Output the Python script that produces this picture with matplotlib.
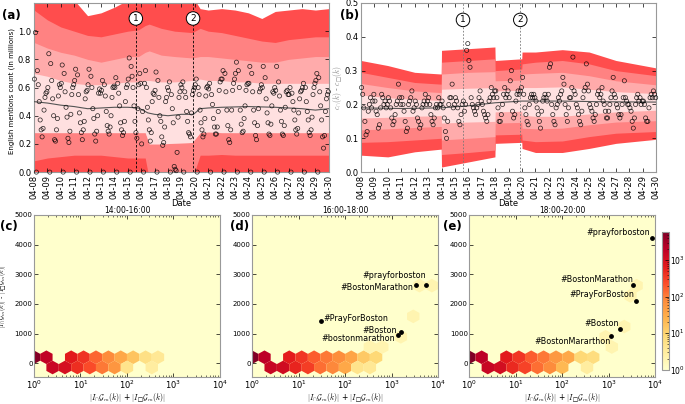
import matplotlib
matplotlib.use("Agg")
import matplotlib.pyplot as plt
import numpy as np
from matplotlib.colors import LogNorm

plt.rcParams["mathtext.fontset"] = "cm"
plt.rcParams["xtick.direction"] = "in"
plt.rcParams["ytick.direction"] = "in"
plt.rcParams["xtick.top"] = True
plt.rcParams["ytick.right"] = True

# ---- top panels: shared date axis ----
date_labels = ["04-08", "04-09", "04-10", "04-11", "04-12", "04-13", "04-14", "04-15",
               "04-16", "04-17", "04-18", "04-19", "04-20", "04-21", "04-22", "04-23",
               "04-24", "04-25", "04-26", "04-27", "04-28", "04-29", "04-30"]
event_days = [7.6, 11.87]

# panel (a): percentile bands (days since 04-08)
band_days_a = [0, 1, 2, 3, 4, 5, 6, 7, 7.8, 8.3, 8.6, 9.5, 10.5, 11.8, 12.4, 13, 14, 15, 16, 17, 18, 19, 20, 21, 22]
outer_hi_a = [1.25, 1.25, 1.25, 1.22, 1.11, 1.13, 1.17, 1.22, 1.25, 1.25, 1.25, 1.25, 1.25, 1.25,
              1.16, 1.15, 1.16, 1.15, 1.13, 1.09, 1.14, 1.15, 1.16, 1.15, 1.16]
mid_hi_a = [1.15, 1.08, 1.03, 1.0, 0.97, 0.96, 0.98, 1.0, 1.01, 1.04, 1.05, 1.02, 1.0, 0.99,
            1.02, 1.0, 0.99, 0.97, 0.95, 0.93, 0.92, 0.94, 0.95, 0.96, 0.96]
inner_hi_a = [0.92, 0.88, 0.85, 0.83, 0.8, 0.78, 0.8, 0.82, 0.82, 0.85, 0.86, 0.83, 0.82, 0.81,
              0.82, 0.82, 0.81, 0.8, 0.79, 0.78, 0.78, 0.8, 0.81, 0.82, 0.82]
core_hi_a = [0.7, 0.68, 0.65, 0.63, 0.62, 0.62, 0.63, 0.64, 0.64, 0.65, 0.65, 0.64, 0.64, 0.65,
             0.66, 0.65, 0.65, 0.64, 0.64, 0.63, 0.63, 0.63, 0.63, 0.63, 0.63]
core_lo_a = [0.28, 0.28, 0.28, 0.28, 0.28, 0.28, 0.28, 0.28, 0.28, 0.28, 0.2, 0.2, 0.205, 0.21,
             0.28, 0.285, 0.28, 0.28, 0.28, 0.28, 0.28, 0.28, 0.28, 0.28, 0.28]
inner_lo_a = core_lo_a
mid_lo_a = [0.08, 0.1, 0.11, 0.12, 0.12, 0.12, 0.11, 0.1, 0.1, 0.1, -0.05, -0.05, -0.05, -0.05,
            0.12, 0.12, 0.125, 0.12, 0.12, 0.12, 0.12, 0.12, 0.12, 0.12, 0.12]
outer_lo_a = [-0.1] * 25

median_days_a = [0, 1, 2, 3, 4, 5, 6, 7, 7.8, 8.5, 9, 10, 11, 11.9, 12.4, 13, 14, 16, 18, 20, 21, 22]
median_a = [0.5, 0.49, 0.475, 0.465, 0.45, 0.455, 0.46, 0.46, 0.455, 0.42, 0.41, 0.4, 0.41, 0.41,
            0.45, 0.455, 0.46, 0.465, 0.46, 0.45, 0.44, 0.45]

# hourly-ish counts (in millions), one list per day
counts_a = [
    [0.66, 0.99, 0.0, 0.72, 0.62, 0.5, 0.37, 0.3, 0.25, 0.31, 0.44, 0.53, 0.56, 0.57],
    [0.6, 0.84, 0.0, 0.77, 0.65, 0.52, 0.4, 0.23, 0.22, 0.3, 0.38, 0.54, 0.62, 0.6],
    [0.63, 0.76, 0.0, 0.7, 0.57, 0.46, 0.39, 0.24, 0.21, 0.29, 0.41, 0.55, 0.6, 0.62],
    [0.65, 0.73, 0.0, 0.69, 0.55, 0.42, 0.35, 0.28, 0.23, 0.3, 0.36, 0.52, 0.57, 0.58],
    [0.62, 0.73, 0.0, 0.68, 0.6, 0.45, 0.38, 0.27, 0.22, 0.29, 0.4, 0.56, 0.59, 0.56],
    [0.58, 0.65, 0.0, 0.62, 0.54, 0.43, 0.33, 0.29, 0.27, 0.32, 0.4, 0.53, 0.6, 0.61],
    [0.6, 0.67, 0.0, 0.63, 0.56, 0.47, 0.35, 0.3, 0.26, 0.28, 0.36, 0.5, 0.6, 0.62],
    [0.66, 0.81, 0.0, 0.75, 0.68, 0.6, 0.47, 0.36, 0.28, 0.24, 0.45, 0.62, 0.7, 0.63],
    [0.2, 0.43, 0.0, 0.63, 0.72, 0.6, 0.46, 0.37, 0.3, 0.22, 0.28, 0.5, 0.56, 0.55],
    [0.58, 0.71, 0.0, 0.65, 0.53, 0.4, 0.36, 0.25, 0.19, 0.21, 0.32, 0.5, 0.53, 0.6],
    [0.58, 0.64, 0.0, 0.55, 0.45, 0.35, 0.04, 0.02, 0.01, 0.14, 0.39, 0.53, 0.57, 0.62],
    [0.6, 0.64, 0.0, 0.57, 0.53, 0.43, 0.36, 0.28, 0.27, 0.25, 0.42, 0.55, 0.58, 0.6],
    [0.62, 0.66, 0.0, 0.6, 0.55, 0.44, 0.35, 0.3, 0.25, 0.27, 0.38, 0.54, 0.6, 0.61],
    [0.59, 0.63, 0.0, 0.55, 0.48, 0.38, 0.32, 0.27, 0.27, 0.32, 0.43, 0.58, 0.64, 0.66],
    [0.66, 0.72, 0.0, 0.7, 0.57, 0.44, 0.33, 0.23, 0.21, 0.3, 0.44, 0.58, 0.63, 0.66],
    [0.7, 0.78, 0.0, 0.72, 0.6, 0.44, 0.34, 0.28, 0.29, 0.38, 0.47, 0.58, 0.62, 0.63],
    [0.63, 0.75, 0.0, 0.7, 0.57, 0.44, 0.35, 0.26, 0.23, 0.33, 0.45, 0.57, 0.59, 0.62],
    [0.6, 0.75, 0.0, 0.67, 0.52, 0.42, 0.35, 0.27, 0.26, 0.34, 0.47, 0.57, 0.56, 0.6],
    [0.58, 0.75, 0.0, 0.64, 0.54, 0.44, 0.36, 0.27, 0.26, 0.33, 0.46, 0.57, 0.58, 0.55],
    [0.55, 0.6, 0.0, 0.56, 0.5, 0.44, 0.37, 0.3, 0.27, 0.31, 0.42, 0.52, 0.57, 0.58],
    [0.6, 0.63, 0.0, 0.6, 0.5, 0.43, 0.37, 0.28, 0.26, 0.3, 0.39, 0.55, 0.6, 0.63],
    [0.65, 0.7, 0.0, 0.67, 0.57, 0.47, 0.37, 0.25, 0.17, 0.26, 0.43, 0.52, 0.55, 0.57],
]

# panel (b): percentile bands
band_days_b = [0, 2, 4, 5.98, 6.0, 8, 9.98, 10.0, 11.98, 12.0, 13, 15, 17, 19, 22]
outer_hi_b = [0.33, 0.315, 0.295, 0.29, 0.36, 0.365, 0.37, 0.33, 0.335, 0.355, 0.355, 0.362, 0.355, 0.33, 0.308]
mid_hi_b = [0.295, 0.28, 0.265, 0.26, 0.325, 0.33, 0.335, 0.3, 0.305, 0.32, 0.325, 0.33, 0.32, 0.3, 0.285]
inner_hi_b = [0.262, 0.25, 0.24, 0.235, 0.29, 0.295, 0.297, 0.27, 0.272, 0.29, 0.292, 0.295, 0.285, 0.27, 0.258]
core_hi_b = [0.228, 0.22, 0.215, 0.212, 0.245, 0.248, 0.25, 0.24, 0.242, 0.25, 0.25, 0.252, 0.245, 0.238, 0.232]
core_lo_b = [0.16, 0.162, 0.165, 0.167, 0.145, 0.148, 0.15, 0.178, 0.18, 0.168, 0.165, 0.165, 0.172, 0.178, 0.183]
inner_lo_b = [0.125, 0.128, 0.132, 0.135, 0.095, 0.1, 0.105, 0.145, 0.147, 0.13, 0.128, 0.13, 0.14, 0.148, 0.152]
mid_lo_b = [0.088, 0.09, 0.095, 0.1, 0.052, 0.058, 0.065, 0.11, 0.112, 0.095, 0.09, 0.092, 0.105, 0.115, 0.12]
outer_lo_b = [0.05, 0.045, 0.06, 0.068, 0.015, 0.03, 0.045, 0.085, 0.088, 0.07, 0.058, 0.058, 0.07, 0.085, 0.097]

median_days_b = [0, 3, 6, 8, 10, 12, 15, 18, 22]
median_b = [0.19, 0.188, 0.19, 0.196, 0.205, 0.21, 0.21, 0.208, 0.207]

ratio_b = [
    [0.25, 0.23, 0.19, 0.15, 0.11, 0.12, 0.18, 0.2, 0.22, 0.19, 0.21, 0.23],
    [0.21, 0.18, 0.17, 0.13, 0.14, 0.19, 0.23, 0.22, 0.2, 0.21, 0.19, 0.2],
    [0.22, 0.21, 0.19, 0.16, 0.14, 0.15, 0.17, 0.2, 0.21, 0.26, 0.22, 0.2],
    [0.22, 0.2, 0.18, 0.15, 0.12, 0.13, 0.2, 0.21, 0.22, 0.24, 0.18, 0.19],
    [0.21, 0.2, 0.16, 0.15, 0.13, 0.14, 0.19, 0.2, 0.21, 0.23, 0.2, 0.21],
    [0.22, 0.2, 0.17, 0.15, 0.14, 0.16, 0.19, 0.2, 0.19, 0.22, 0.2, 0.2],
    [0.21, 0.19, 0.16, 0.12, 0.1, 0.15, 0.2, 0.22, 0.22, 0.26, 0.19, 0.2],
    [0.22, 0.21, 0.19, 0.15, 0.14, 0.17, 0.2, 0.21, 0.18, 0.2, 0.36, 0.38],
    [0.33, 0.31, 0.22, 0.2, 0.19, 0.18, 0.17, 0.19, 0.2, 0.22, 0.24, 0.21],
    [0.2, 0.18, 0.17, 0.16, 0.15, 0.17, 0.21, 0.22, 0.25, 0.23, 0.22, 0.24],
    [0.24, 0.22, 0.19, 0.15, 0.15, 0.17, 0.2, 0.23, 0.25, 0.22, 0.23, 0.24],
    [0.22, 0.27, 0.3, 0.18, 0.16, 0.17, 0.21, 0.23, 0.24, 0.23, 0.24, 0.25],
    [0.28, 0.23, 0.19, 0.17, 0.15, 0.14, 0.2, 0.22, 0.23, 0.22, 0.23, 0.22],
    [0.21, 0.19, 0.17, 0.15, 0.13, 0.18, 0.21, 0.22, 0.23, 0.22, 0.21, 0.23],
    [0.31, 0.32, 0.2, 0.17, 0.15, 0.14, 0.19, 0.2, 0.22, 0.21, 0.23, 0.24],
    [0.28, 0.26, 0.2, 0.17, 0.15, 0.19, 0.22, 0.22, 0.25, 0.34, 0.24, 0.23],
    [0.2, 0.19, 0.17, 0.15, 0.14, 0.18, 0.22, 0.24, 0.25, 0.32, 0.26, 0.24],
    [0.2, 0.19, 0.18, 0.16, 0.15, 0.17, 0.2, 0.23, 0.24, 0.22, 0.23, 0.25],
    [0.21, 0.2, 0.18, 0.16, 0.16, 0.18, 0.2, 0.22, 0.24, 0.28, 0.23, 0.22],
    [0.2, 0.19, 0.17, 0.16, 0.17, 0.2, 0.22, 0.27, 0.22, 0.21, 0.2, 0.2],
    [0.19, 0.18, 0.15, 0.13, 0.16, 0.2, 0.22, 0.23, 0.21, 0.22, 0.2, 0.21],
    [0.21, 0.2, 0.16, 0.15, 0.15, 0.19, 0.22, 0.23, 0.22, 0.24, 0.23, 0.22],
]

# ---- bottom panels: hexbin cells (x = |I_cap G| + |I_sq G|, y = difference, n = number of hashtags) ----
hex_x_c = [1, 1.85, 6.3, 11.7, 21.5, 40, 74, 136, 251, 464, 2.5, 4.6, 8.6, 15.8, 29, 54, 100, 340]
hex_y_c = [200] * 10 + [-145] * 8
hex_n_c = [5500, 1800, 700, 400, 150, 80, 35, 16, 6, 4, 1400, 1000, 450, 250, 110, 60, 5, 3]

hex_x_d = [1, 1.85, 6.3, 11.7, 21.5, 40, 74, 136, 251, 464,
           2.5, 4.6, 8.6, 15.8, 29, 54, 100, 183, 340,
           340, 631, 1585, 2930, 3980, 7350]
hex_y_d = [200] * 10 + [-145] * 9 + [545, 545, 890, 1580, 2615, 2615]
hex_n_d = [6000, 2000, 650, 380, 180, 110, 75, 40, 14, 9,
           1500, 1200, 550, 330, 130, 85, 35, 5, 4,
           2, 2, 2, 2, 2, 2]

hex_x_e = [1, 1.85, 6.3, 11.7, 21.5, 40, 74, 136, 251, 464,
           2.5, 4.6, 8.6, 15.8, 29, 54, 100, 340,
           1170, 857, 2150, 2930, 3980]
hex_y_e = [200] * 10 + [-145] * 8 + [545, 890, 1235, 2270, 2615]
hex_n_e = [6000, 2000, 700, 380, 180, 110, 55, 35, 9, 7,
           1500, 1100, 500, 300, 130, 80, 22, 3,
           2, 2, 2, 2, 2]

# labelled hashtags
tags_d = ["#prayforboston", "#BostonMarathon", "#PrayForBoston", "#Boston", "#bostonmarathon"]
tag_x_d = [5600, 3300, 30, 1560, 1380]
tag_y_d = [2650, 2630, 1430, 1050, 960]
tags_e = ["#prayforboston", "#BostonMarathon", "#PrayForBoston", "#Boston", "#BostonMararthon"]
tag_x_e = [8700, 3300, 3850, 1770, 1110]
tag_y_e = [4220, 2620, 2110, 1140, 930]

time_windows = ["14:00-16:00", "16:00-18:00", "18:00-20:00"]

BAND_COLORS = ["#ff4d4d", "#ff8282", "#ffabab", "#ffe0e0"]
TICK_FS = 6


def band_panel(ax, days, bands, med_days, med_vals, series, ylim, yticks, circle_y, line_style):
    for (lo, hi), col in zip(bands, BAND_COLORS):
        ax.fill_between(days, lo, hi, color=col, lw=0, zorder=1)
    ax.plot(med_days, med_vals, color="#555555", lw=0.8, zorder=3)
    xs, ys = [], []
    for d, vals in enumerate(series):
        n = len(vals)
        for i, v in enumerate(vals):
            xs.append(d + (i + 0.5) / n)
            ys.append(v)
    ax.scatter(xs, ys, s=9, facecolors="none", edgecolors="black", linewidths=0.5,
               alpha=0.85, zorder=4, clip_on=False)
    for k, t in enumerate(event_days):
        ax.axvline(t, **line_style, zorder=5)
        ax.text(t, circle_y, str(k + 1), ha="center", va="center", fontsize=6.5, zorder=6,
                bbox=dict(boxstyle="circle,pad=0.25", fc="white", ec="black", lw=0.7))
    ax.set_xlim(0, len(date_labels) - 1)
    ax.set_ylim(*ylim)
    ax.set_yticks(yticks)
    ax.set_xticks(range(len(date_labels)))
    ax.set_xticklabels(date_labels, rotation=90, fontsize=TICK_FS)
    ax.tick_params(axis="y", labelsize=TICK_FS)
    ax.tick_params(length=3, width=0.5, pad=2)
    ax.set_xlabel("Date", fontsize=6, labelpad=0)
    for s in ax.spines.values():
        s.set_color("#999999")


fig = plt.figure(figsize=(6.85, 4.04), dpi=100)

ax_a = fig.add_axes([0.0496, 0.574, 0.4304, 0.4186])
band_panel(ax_a, band_days_a,
           [(outer_lo_a, outer_hi_a), (mid_lo_a, mid_hi_a), (inner_lo_a, inner_hi_a), (core_lo_a, core_hi_a)],
           median_days_a, median_a, counts_a, (0, 1.2), [0.0, 0.2, 0.4, 0.6, 0.8, 1.0], 1.09,
           dict(color="black", ls=(0, (3, 2)), lw=0.6))
ax_a.set_ylabel("English mentions count (in millions)", fontsize=5.0)
ax_a.yaxis.set_label_coords(-0.065, 0.48)

ax_b = fig.add_axes([0.527, 0.574, 0.431, 0.4186])
band_panel(ax_b, band_days_b,
           [(outer_lo_b, outer_hi_b), (mid_lo_b, mid_hi_b), (inner_lo_b, inner_hi_b), (core_lo_b, core_hi_b)],
           median_days_b, median_b, ratio_b, (0, 0.5), [0.0, 0.1, 0.2, 0.3, 0.4, 0.5], 0.45,
           dict(color="#777777", ls=(0, (2, 2)), lw=0.6))
ax_b.set_ylabel("$c_{\\cap}(k)$ - $c_{\u25a1}(k)$", fontsize=5.5, color="#888888")
ax_b.yaxis.set_label_coords(-0.055, 0.5)

fig.text(0.003, 0.962, "(a)", fontsize=8.5, fontweight="bold", va="center")
fig.text(0.497, 0.962, "(b)", fontsize=8.5, fontweight="bold", va="center")

# bottom row
norm = LogNorm(vmin=1, vmax=6000)
bg = plt.get_cmap("YlOrRd")(0.0)
lefts = [0.0496, 0.368, 0.685]
hex_sets = [(hex_x_c, hex_y_c, hex_n_c), (hex_x_d, hex_y_d, hex_n_d), (hex_x_e, hex_y_e, hex_n_e)]
tag_sets = [None, (tags_d, tag_x_d, tag_y_d), (tags_e, tag_x_e, tag_y_e)]
tag_offsets = [None,
               [(0, 3, "right", "bottom"), (-2, -2, "right", "center"), (2, 1.5, "left", "center"),
                (-3, 1, "right", "center"), (-2, -3, "right", "center")],
               [(-2, 1, "right", "bottom"), (0, 1, "right", "bottom"), (-1, 1, "right", "bottom"),
                (-1, 1, "right", "bottom"), (0, -1, "right", "top")]]
panel_letters = ["(c)", "(d)", "(e)"]
letter_x = [0.0, 0.336, 0.647]
xlab = "$|I_{\\cap}\\mathcal{G}_m(k)|$ + $|I_{\u25a1}\\mathcal{G}_m(k)|$"
ylab = "$|I_{\\cap}\\mathcal{G}_m(k)|$ - $|I_{\u25a1}\\mathcal{G}_m(k)|$"

hb = None
for k in range(3):
    ax = fig.add_axes([lefts[k], 0.068, 0.2715, 0.4])
    ax.set_facecolor(bg)
    hx, hy, hn = hex_sets[k]
    hb = ax.hexbin(hx, hy, C=hn, reduce_C_function=np.sum, gridsize=(15, 8), xscale="log",
                   extent=(0, 4, -490, 5030), cmap="YlOrRd", norm=norm, linewidths=0,
                   edgecolors="none")
    if tag_sets[k] is not None:
        names, tx, ty = tag_sets[k]
        ax.scatter(tx, ty, s=6, color="black", zorder=5)
        for name, x, y, (dx, dy, ha, va) in zip(names, tx, ty, tag_offsets[k]):
            ax.annotate(name, (x, y), xytext=(dx, dy), textcoords="offset points",
                        ha=ha, va=va, fontsize=5.8, zorder=6)
    ax.set_xlim(1, 1e4)
    ax.set_ylim(-450, 5000)
    ax.set_yticks([0, 1000, 2000, 3000, 4000, 5000])
    ax.tick_params(axis="x", labelsize=TICK_FS, length=3, width=0.5, pad=1.5)
    ax.tick_params(axis="y", labelsize=5.0, length=3, width=0.5, pad=1)
    ax.tick_params(which="minor", length=1.5, width=0.4)
    ax.set_title(time_windows[k], fontsize=5.5, pad=1.5)
    ax.set_xlabel(xlab, fontsize=5.5, labelpad=0.5)
    if k == 0:
        ax.set_ylabel(ylab, fontsize=4.8)
        ax.yaxis.set_label_coords(-0.135, 0.5)
    for s in ax.spines.values():
        s.set_color("#999999")
    fig.text(letter_x[k], 0.44, panel_letters[k], fontsize=8.5, fontweight="bold", va="center")

cax = fig.add_axes([0.966, 0.085, 0.011, 0.341])
cb = fig.colorbar(hb, cax=cax)
cb.ax.tick_params(labelsize=5.5, length=3, width=0.5, pad=0.5)
cb.ax.tick_params(which="minor", length=1.5, width=0.4)
cb.outline.set_edgecolor("#999999")

fig.savefig("out.png", dpi=100)
